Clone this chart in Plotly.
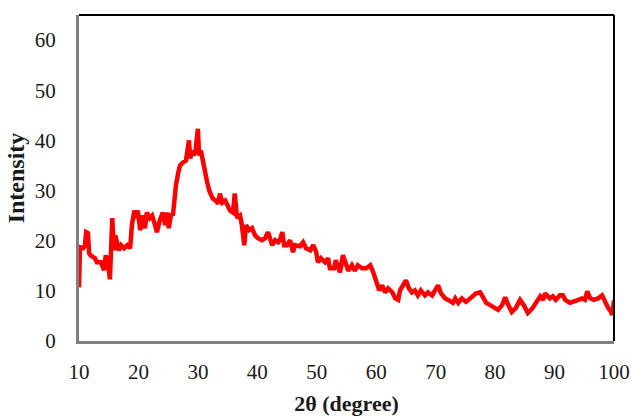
import plotly.graph_objects as go

two_theta = [10.0, 10.17, 10.7, 11.0, 11.2, 11.5, 11.7, 11.9, 12.7, 13.0, 13.7, 14.0, 14.2, 14.5, 14.9,
             15.2, 15.4, 15.6, 15.7, 15.9, 16.1, 16.4, 16.7, 17.1, 17.6, 18.1, 18.6, 18.9, 19.1, 19.3,
             19.6, 19.9, 20.3, 20.6, 21.1, 21.4, 21.9, 22.3, 22.8, 23.1, 23.6, 24.1, 24.5, 24.8, 25.1,
             25.5, 25.8, 26.2, 26.3, 26.7, 27.0, 27.5, 28.0, 28.5, 28.7, 29.0, 29.3, 29.6, 30.0, 30.2,
             30.5, 30.9, 31.2, 31.5, 31.9, 32.2, 32.5, 33.0, 33.4, 33.7, 34.1, 34.6, 35.1, 35.4, 35.9,
             36.2, 36.6, 37.1, 37.4, 37.8, 38.1, 38.6, 39.1, 39.6, 40.1, 40.8, 41.3, 41.8, 42.5, 43.0,
             43.5, 43.8, 44.2, 44.5, 45.0, 45.5, 46.0, 46.3, 47.2, 47.7, 48.2, 48.9, 49.4, 49.9, 50.2,
             50.7, 51.4, 51.9, 52.2, 52.9, 53.2, 53.9, 54.4, 54.8, 55.3, 55.9, 56.4, 56.9, 57.6, 58.3,
             59.0, 59.5, 60.0, 60.5, 61.0, 61.5, 62.0, 62.7, 63.2, 63.7, 64.0, 64.7, 65.0, 65.5, 66.0,
             66.5, 67.0, 67.5, 68.2, 68.7, 69.4, 70.1, 70.4, 70.9, 71.6, 72.1, 72.9, 73.3, 73.8, 74.4,
             75.1, 75.8, 76.3, 76.8, 77.5, 78.0, 78.5, 79.1, 79.8, 80.5, 81.2, 81.7, 82.2, 82.8, 83.5,
             84.2, 84.9, 85.5, 86.2, 86.9, 87.6, 88.1, 88.4, 89.2, 89.7, 90.2, 90.9, 91.4, 91.8, 92.6,
             93.3, 94.0, 94.6, 95.1, 95.5, 96.0, 96.6, 97.3, 98.0, 98.5, 99.0, 99.4, 99.7, 100.0]

intensity = [10.7, 18.7, 18.5, 19.0, 21.7, 21.5, 17.5, 17.1, 16.5, 15.7, 15.7, 14.9, 14.1, 17.1, 15.1,
             12.3, 19.1, 24.5, 22.1, 18.1, 21.1, 19.7, 18.1, 19.1, 18.5, 19.1, 18.5, 23.1, 25.0, 26.0,
             24.5, 26.0, 22.1, 25.0, 22.5, 25.6, 24.5, 25.0, 23.1, 21.7, 24.1, 25.6, 23.1, 25.6, 22.5,
             25.4, 25.0, 30.0, 31.0, 33.6, 35.0, 35.6, 36.0, 40.0, 36.4, 38.0, 37.0, 38.0, 42.3, 37.0,
             38.0, 35.6, 33.0, 32.0, 30.0, 29.0, 28.4, 28.0, 27.4, 29.4, 27.6, 28.0, 27.0, 26.0, 25.6,
             29.4, 24.5, 25.0, 23.1, 19.1, 23.1, 22.1, 22.5, 21.1, 20.5, 20.1, 20.5, 21.7, 19.1, 20.1,
             19.7, 20.1, 21.7, 19.1, 19.1, 20.1, 17.7, 19.1, 18.9, 19.7, 18.5, 18.1, 19.1, 17.7, 15.7,
             16.5, 15.7, 16.5, 14.5, 14.5, 16.1, 13.7, 17.1, 15.7, 14.0, 15.1, 14.0, 15.1, 14.5, 14.5,
             15.1, 13.7, 11.7, 10.1, 11.1, 9.7, 10.5, 9.7, 8.5, 8.2, 10.1, 11.5, 12.1, 10.5, 9.7,
             10.1, 9.1, 10.1, 9.1, 9.7, 9.1, 10.5, 11.1, 9.5, 8.5, 8.2, 7.6, 8.5, 7.6, 8.5,
             7.8, 8.5, 9.1, 9.5, 9.7, 8.7, 7.6, 7.2, 6.8, 6.2, 7.2, 8.7, 7.2, 5.8, 6.6,
             8.2, 7.0, 5.6, 6.4, 7.6, 8.9, 8.2, 9.5, 8.5, 8.9, 8.2, 9.1, 9.1, 8.2, 7.6,
             7.8, 8.2, 8.5, 8.2, 9.9, 8.5, 8.2, 8.5, 9.1, 7.6, 6.6, 6.0, 5.2, 8.1]

x_ticks = [10, 20, 30, 40, 50, 60, 70, 80, 90, 100]
y_ticks = [0, 10, 20, 30, 40, 50, 60]

fig = go.Figure()
fig.add_trace(go.Scatter(x=two_theta, y=intensity, mode="lines",
                         line=dict(color="#ff0000", width=4.5), showlegend=False))

font_family = "Liberation Serif"
fig.update_layout(
    width=632, height=416,
    margin=dict(l=79, r=18, t=15, b=75),
    paper_bgcolor="white", plot_bgcolor="white",
    font=dict(family=font_family, color="#1a1a1a"),
    xaxis=dict(range=[10, 100], tickvals=x_ticks, ticktext=[str(v) for v in x_ticks],
               showgrid=False, zeroline=False, showline=True, linecolor="#7f7f7f", linewidth=3,
               ticks="", tickfont=dict(size=21, family=font_family, color="#1a1a1a"),
               ticklabelstandoff=10, automargin=False,
               title=dict(text="<b>2θ (degree)</b>", font=dict(size=22, family=font_family, color="#1a1a1a"),
                          standoff=14)),
    yaxis=dict(range=[0, 65], tickvals=y_ticks, ticktext=[str(v) for v in y_ticks],
               showgrid=False, zeroline=False, showline=True, linecolor="#7f7f7f", linewidth=3,
               ticks="", tickfont=dict(size=21, family=font_family, color="#1a1a1a"),
               ticklabelstandoff=16, automargin=False,
               title=dict(text="<b>Intensity</b>", font=dict(size=24, family=font_family, color="#1a1a1a"),
                          standoff=4)),
)
# top and right frame lines
fig.add_shape(type="line", xref="paper", yref="paper", x0=0, x1=1, y0=1, y1=1,
              line=dict(color="#000000", width=2))
fig.add_shape(type="line", xref="paper", yref="paper", x0=1, x1=1, y0=0, y1=1,
              line=dict(color="#000000", width=2))

fig.write_html("out.html")
